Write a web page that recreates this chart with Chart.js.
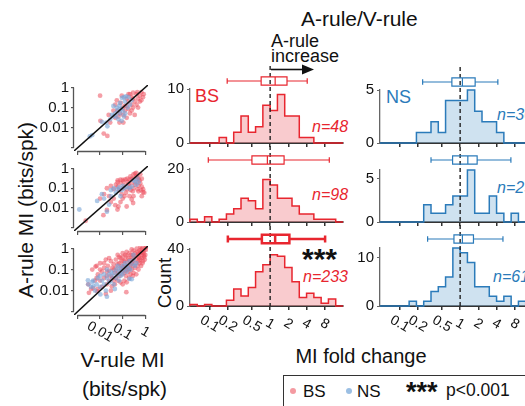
<!DOCTYPE html>
<html>
<head>
<meta charset="utf-8">
<script src="https://cdn.jsdelivr.net/npm/chart.js@4.4.1/dist/chart.umd.min.js"></script>
<style>
  body { margin: 0; width: 525px; height: 406px; overflow: hidden; background: #fff; position: relative;
         font-family: "Liberation Sans", Arial, sans-serif; color: #111; }
  canvas { position: absolute; }
  .t { position: absolute; white-space: nowrap; line-height: 1; }
  .c { transform: translateX(-50%); }
  .rot { transform: translate(-50%, -50%) rotate(-90deg); }
  .bs { color: #e8262f; }
  .ns { color: #2b7bba; }
  .n { font-style: italic; font-size: 16px; }
  .dot { position: absolute; width: 6px; height: 6px; border-radius: 50%; }
</style>
</head>
<body>

<div class="t" style="left:301px;top:8px;font-size:21px">A-rule/V-rule</div>
<div class="t" style="left:271px;top:32px;font-size:18px">A-rule</div>
<div class="t" style="left:271px;top:46.5px;font-size:18px">increase</div>
<svg style="position:absolute;left:265px;top:60px" width="60" height="20">
  <line x1="6" y1="9.5" x2="38" y2="9.5" stroke="#111" stroke-width="1.6"/>
  <polygon points="37,4.5 49,9.5 37,14.5" fill="#111"/>
</svg>

<div class="t bs" style="left:195px;top:87px;font-size:18px">BS</div>
<div class="t ns" style="left:386px;top:88px;font-size:18px">NS</div>
<div class="t n bs" style="left:312px;top:118.5px">n=48</div>
<div class="t n bs" style="left:312px;top:186.5px">n=98</div>
<div class="t n bs" style="left:303px;top:268.5px">n=233</div>
<div class="t n ns" style="left:497px;top:106.5px">n=30</div>
<div class="t n ns" style="left:497px;top:179.5px">n=25</div>
<div class="t n ns" style="left:493px;top:268.5px">n=61</div>
<div class="t" style="left:302px;top:244px;font-size:30px;font-weight:bold">***</div>

<div class="t rot" style="left:25px;top:210px;font-size:21px">A-rule MI (bits/spk)</div>
<div class="t rot" style="left:164px;top:283px;font-size:19px">Count</div>
<div class="t c" style="left:122.5px;top:349px;font-size:21px">V-rule MI</div>
<div class="t c" style="left:124.5px;top:378px;font-size:21px">(bits/spk)</div>
<div class="t c" style="left:361px;top:346px;font-size:20px">MI fold change</div>

<div style="position:absolute;left:283px;top:375px;width:300px;height:60px;border:1.5px solid #333"></div>
<div class="dot" style="left:289.5px;top:388px;background:rgba(240,120,130,0.75)"></div>
<div class="t" style="left:303px;top:382.5px;font-size:17px">BS</div>
<div class="dot" style="left:345.5px;top:388px;background:rgba(130,175,220,0.8)"></div>
<div class="t" style="left:357px;top:382.5px;font-size:17px">NS</div>
<div class="t" style="left:406px;top:378.5px;font-size:27px;font-weight:bold">***</div>
<div class="t" style="left:446px;top:382px;font-size:17.5px">p&lt;0.001</div>

<script>
const family = '"Liberation Sans", Arial, sans-serif';
Chart.defaults.font.family = family;

// ---- histogram data (MI fold change, A-rule / V-rule) ----
const foldTicks = [0.1, 0.2, 0.5, 1, 2, 4, 8];
const foldLabels = ['0.1', '0.2', '0.5', '1', '2', '4', '8'];
const binStart = -4.4;   // log2 fold change of first bin edge
const binWidth = 0.4;    // bin width in log2 units

const bsCounts1 = [0, 0, 0, 0, 1, 0, 2, 5, 2, 3, 7, 6, 9, 5, 5, 1, 1, 0, 0, 0, 0];
const bsCounts2 = [1, 0, 2, 0, 1, 3, 5, 9, 8, 5, 16, 14, 9, 9, 6, 3, 3, 1, 1, 1, 0];
const bsCounts3 = [1, 0, 1, 0, 0, 4, 12, 7, 13, 24, 29, 36, 35, 27, 17, 6, 9, 6, 2, 5, 0];
const nsCounts1 = [0, 0, 0, 0, 0, 1, 1, 2, 1, 4, 4, 4, 5, 3, 2, 2, 1, 0, 0, 0, 0];
const nsCounts2 = [0, 0, 0, 0, 0, 0, 2, 1, 1, 2, 3, 3, 6, 1, 1, 3, 1, 0, 1, 0, 0];
const nsCounts3 = [0, 0, 0, 0, 1, 0, 1, 3, 4, 6, 12, 11, 9, 4, 4, 2, 1, 2, 0, 1, 0];

// box plots: [whisker low, q1, median, q3, whisker high] as fold change
const bsBox1 = [0.195, 0.71, 1.21, 1.9, 4.1];
const bsBox2 = [0.095, 0.5, 0.9, 1.7, 9.5];
const bsBox3 = [0.2, 0.73, 1.21, 2.08, 8.1];
const nsBox1 = [0.24, 0.73, 1.09, 1.77, 4.2];
const nsBox2 = [0.33, 0.75, 1.34, 1.91, 6.9];
const nsBox3 = [0.29, 0.79, 1.09, 1.66, 5.1];

// ---- scatter data: [V-rule MI, A-rule MI] in bits/spk ----
const bsScatter1 = [[0.010,0.39],[0.0145,0.0051],[0.021,0.0039],[0.0103,0.022],[0.29,0.55],[0.41,0.46],[0.57,0.39],[0.67,0.58],
  [0.48,0.28],[0.34,0.2],[0.25,0.14],[0.18,0.085],[0.126,0.071],[0.21,0.051],[0.15,0.031],[0.107,0.018],[0.047,0.031],[0.039,0.071],
  [0.028,0.018],[0.055,0.23],[0.091,0.39],[0.15,0.28],[0.25,0.33],[0.79,0.33],[0.41,0.14],[0.29,0.1],[0.57,0.2],[0.076,0.051],
  [0.126,0.12],[0.21,0.46],[0.065,0.036],[0.1,0.1],[0.85,0.46],[0.48,0.1],[0.29,0.28],[0.18,0.2],[0.082,0.17],[0.047,0.14],
  [0.25,0.071],[0.34,0.043],[0.67,0.23],[0.107,0.043],[0.18,0.46],[0.059,0.071],[0.44,0.58],[0.15,0.12],[0.072,0.018],[0.024,0.043]];
const nsScatter1 = [[0.0035,0.0037],[0.0045,0.0043],[0.012,0.0196],[0.021,0.0118],[0.033,0.043],[0.047,0.051],[0.059,0.071],
  [0.076,0.17],[0.093,0.3],[0.114,0.33],[0.039,0.12],[0.065,0.026],[0.09,0.022],[0.114,0.036],[0.055,0.1],[0.14,0.36],[0.18,0.33],
  [0.076,0.051],[0.051,0.036],[0.028,0.026],[0.126,0.2],[0.1,0.071],[0.21,0.14],[0.165,0.1],[0.072,0.12],[0.039,0.036],[0.25,0.23],
  [0.13,0.051],[0.019,0.018],[0.082,0.085]];
const bsScatter2 = [[0.06,0.25],[0.08,0.27],[0.1,0.26],[0.13,0.28],[0.16,0.3],[0.2,0.27],[0.25,0.3],[0.3,0.5],[0.35,0.55],[0.4,0.4],
  [0.45,0.35],[0.5,0.3],[0.3,0.3],[0.22,0.4],[0.6,0.5],[0.55,0.25],[0.7,0.3],[0.4,0.6],[0.02,0.1],[0.03,0.13],[0.04,0.09],[0.05,0.15],
  [0.06,0.12],[0.07,0.08],[0.08,0.18],[0.1,0.1],[0.12,0.14],[0.15,0.09],[0.18,0.16],[0.2,0.12],[0.25,0.18],[0.3,0.1],[0.35,0.15],
  [0.4,0.2],[0.5,0.13],[0.6,0.18],[0.7,0.12],[0.8,0.09],[0.9,0.06],[0.5,0.07],[0.45,0.09],[0.28,0.07],[0.14,0.06],[0.09,0.05],
  [0.06,0.2],[0.11,0.22],[0.17,0.2],[0.22,0.08],[0.01,0.03],[0.015,0.05],[0.025,0.04],[0.03,0.02],[0.04,0.03],[0.047,0.014],
  [0.065,0.012],[0.15,0.012],[0.08,0.02],[0.1,0.03],[0.12,0.04],[0.2,0.04],[0.3,0.04],[0.29,0.018],[0.25,0.027],[0.7,0.04],
  [0.014,0.0044],[0.02,0.008],[0.059,0.0085],[0.0023,0.0023],[0.79,0.063],[0.65,0.08]];
const nsScatter2 = [[0.0012,0.0085],[0.0074,0.023],[0.012,0.05],[0.015,0.03],[0.02,0.0066],[0.025,0.015],[0.03,0.08],[0.04,0.1],
  [0.05,0.06],[0.06,0.09],[0.07,0.11],[0.09,0.08],[0.1,0.13],[0.12,0.1],[0.15,0.12],[0.2,0.1],[0.3,0.25],[0.35,0.22],[0.4,0.15],
  [0.5,0.2],[0.08,0.04],[0.03,0.04],[0.25,0.12],[0.45,0.3]];
const bsScatter3 = [[0.3,0.5],[0.35,0.6],[0.4,0.45],[0.45,0.7],[0.5,0.55],[0.55,0.8],[0.6,0.6],[0.65,0.9],[0.7,0.7],[0.75,1.0],
  [0.8,0.65],[0.9,0.85],[1.0,1.1],[1.1,0.9],[0.85,0.45],[0.7,0.35],[0.6,0.3],[0.5,0.25],[0.4,0.3],[0.35,0.2],[0.45,0.15],[0.55,0.2],
  [0.65,0.15],[0.8,0.25],[0.9,0.4],[1.0,0.5],[0.95,0.3],[0.3,0.35],[0.5,0.4],[0.42,1.0],[0.6,1.2],[0.3,0.8],[0.25,0.9],[0.7,0.5],
  [0.35,0.12],[0.5,0.1],[0.75,0.2],[0.3,0.07],[0.55,0.35],[0.85,0.6],[0.4,0.06],[1.1,1.27],
  [0.05,0.3],[0.06,0.5],[0.07,0.2],[0.08,0.35],[0.09,0.15],[0.1,0.4],[0.11,0.25],[0.12,0.18],[0.13,0.3],[0.14,0.12],[0.15,0.45],
  [0.16,0.22],[0.18,0.35],[0.2,0.28],[0.22,0.16],[0.25,0.4],[0.27,0.25],[0.28,0.15],[0.2,0.6],[0.15,0.7],[0.1,0.6],[0.08,0.12],
  [0.06,0.08],[0.07,0.05],[0.09,0.06],[0.1,0.09],[0.12,0.07],[0.14,0.05],[0.16,0.1],[0.18,0.08],[0.2,0.11],[0.22,0.06],[0.25,0.1],
  [0.28,0.05],[0.05,0.12],[0.05,0.04],[0.06,0.18],[0.11,0.13],[0.13,0.09],[0.17,0.14],[0.24,0.2],[0.19,0.04],[0.12,0.03],
  [0.08,0.025],[0.1,0.02],[0.15,0.025],[0.06,0.03],[0.145,0.0085],[0.23,0.5],[0.13,0.5],[0.09,0.25],[0.07,0.4],
  [0.003,0.02],[0.0045,0.1],[0.0063,0.14],[0.006,0.03],[0.007,0.15],[0.008,0.06],[0.01,0.2],[0.012,0.08],[0.015,0.12],[0.018,0.3],
  [0.02,0.05],[0.022,0.15],[0.025,0.09],[0.03,0.25],[0.035,0.12],[0.04,0.18],[0.045,0.07],[0.01,0.03],[0.012,0.015],[0.015,0.04],
  [0.02,0.02],[0.025,0.03],[0.03,0.05],[0.035,0.04],[0.04,0.03],[0.045,0.02],[0.008,0.012],[0.0074,0.0093],[0.0032,0.0079],
  [0.005,0.013],[0.018,0.007],[0.03,0.01],[0.04,0.1],[0.025,0.35],[0.01,0.1],[0.015,0.2],[0.007,0.04],[0.004,0.012],[0.033,0.016],
  [0.02,0.08]];
const nsScatter3 = [[0.0029,0.031],[0.0045,0.026],[0.003,0.02],[0.004,0.015],[0.005,0.016],[0.005,0.03],[0.006,0.01],[0.007,0.02],
  [0.008,0.04],[0.01,0.015],[0.01,0.05],[0.012,0.03],[0.015,0.02],[0.015,0.06],[0.018,0.01],[0.02,0.04],[0.02,0.1],[0.025,0.025],
  [0.025,0.06],[0.03,0.03],[0.03,0.08],[0.035,0.05],[0.04,0.02],[0.04,0.07],[0.05,0.04],[0.05,0.1],[0.06,0.06],[0.06,0.15],
  [0.07,0.03],[0.07,0.09],[0.08,0.05],[0.08,0.12],[0.09,0.08],[0.1,0.06],[0.1,0.15],[0.12,0.1],[0.13,0.2],[0.15,0.08],[0.15,0.15],
  [0.18,0.12],[0.2,0.25],[0.22,0.1],[0.25,0.18],[0.3,0.3],[0.35,0.15],[0.4,0.2],[0.2,0.036],[0.25,0.035],[0.0103,0.0066],
  [0.02,0.0052],[0.045,0.012],[0.3,0.5]];

// ---- helpers ----
function addCanvas(area, m) {
  const c = document.createElement('canvas');
  const w = area.x1 - area.x0 + m.l + m.r, h = area.y1 - area.y0 + m.t + m.b;
  c.width = w; c.height = h;
  c.style.left = (area.x0 - m.l) + 'px';
  c.style.top = (area.y0 - m.t) + 'px';
  c.style.width = w + 'px'; c.style.height = h + 'px';
  document.body.appendChild(c);
  return c;
}

function rotatedLabels(ctx, scale, vals, texts, y) {
  ctx.fillStyle = '#111';
  ctx.font = '14px ' + family;
  ctx.textAlign = 'center';
  ctx.textBaseline = 'middle';
  vals.forEach((v, i) => {
    ctx.save();
    ctx.translate(scale.getPixelForValue(v), y);
    ctx.rotate(Math.PI / 6);
    ctx.fillText(texts[i], 0, 0);
    ctx.restore();
  });
}

function stepPoints(counts) {
  const pts = [{x: binStart, y: 0}];
  counts.forEach((c, i) => pts.push({x: binStart + i * binWidth, y: c}));
  pts.push({x: binStart + counts.length * binWidth, y: 0});
  return pts;
}

function histExtras(cfg) {
  return {
    id: 'histExtras',
    afterDatasetsDraw(chart) {
      const ctx = chart.ctx, a = chart.chartArea, x = chart.scales.x;
      const cx = x.getPixelForValue(0);
      ctx.save();
      // reference line at fold change 1
      ctx.strokeStyle = '#222';
      ctx.lineWidth = 1.4;
      ctx.setLineDash([4, 3]);
      ctx.beginPath();
      ctx.moveTo(cx, a.top - 23);
      ctx.lineTo(cx, a.bottom);
      ctx.stroke();
      ctx.setLineDash([]);
      // box plot above the histogram
      const b = cfg.box.map(v => x.getPixelForValue(Math.log2(v)));
      const y = a.top - cfg.boxGap, hh = 4.2, ch = cfg.boxLw > 2 ? 3.4 : 2.8;
      ctx.strokeStyle = cfg.line;
      ctx.lineWidth = cfg.boxLw;
      ctx.beginPath();
      ctx.moveTo(b[0], y); ctx.lineTo(b[1], y);
      ctx.moveTo(b[3], y); ctx.lineTo(b[4], y);
      ctx.moveTo(b[0], y - ch); ctx.lineTo(b[0], y + ch);
      ctx.moveTo(b[4], y - ch); ctx.lineTo(b[4], y + ch);
      ctx.moveTo(b[2], y - hh); ctx.lineTo(b[2], y + hh);
      ctx.rect(b[1], y - hh, b[3] - b[1], 2 * hh);
      ctx.stroke();
      if (cfg.labels) rotatedLabels(ctx, x, foldTicks.map(Math.log2), foldLabels, a.bottom + 18);
      ctx.restore();
    }
  };
}

function histogram(cfg) {
  const m = {l: 45, r: 12, t: 30, b: cfg.labels ? 40 : 8};
  const canvas = addCanvas(cfg.area, m);
  new Chart(canvas, {
    type: 'line',
    data: {
      datasets: [{
        data: stepPoints(cfg.counts),
        stepped: true,
        borderColor: cfg.line,
        backgroundColor: cfg.fill,
        fill: 'origin',
        borderWidth: 1.5,
        pointRadius: 0,
        clip: false
      }]
    },
    options: {
      responsive: false,
      animation: false,
      events: [],
      // y axis box takes the whole left margin so its labels are not clipped
      layout: {padding: {left: 0, right: m.r, top: m.t, bottom: m.b}},
      plugins: {legend: {display: false}, tooltip: {enabled: false}},
      scales: {
        x: {
          type: 'linear', min: binStart, max: binStart + 21 * binWidth,
          afterBuildTicks: s => { s.ticks = foldTicks.map(v => ({value: Math.log2(v)})); },
          afterFit: s => { s.height = 0; },
          ticks: {display: false},
          grid: {drawOnChartArea: false, tickLength: 4, color: '#333', lineWidth: 1.5},
          border: {color: '#333', width: 2}
        },
        y: {
          min: 0, max: cfg.yMax,
          afterBuildTicks: s => { s.ticks = [{value: 0}, {value: cfg.yTick}]; },
          afterFit: s => { s.width = m.l; },
          ticks: {color: '#111', font: {size: 15}, padding: 3, autoSkip: false},
          grid: {drawOnChartArea: false, tickLength: 3, color: '#666'},
          border: {color: '#666', width: 1.3}
        }
      }
    },
    plugins: [histExtras(cfg)]
  });
}

function scatterExtras(cfg) {
  return {
    id: 'scatterExtras',
    afterDatasetsDraw(chart) {
      const ctx = chart.ctx, a = chart.chartArea, x = chart.scales.x, y = chart.scales.y;
      ctx.save();
      ctx.strokeStyle = '#555';
      ctx.lineWidth = 1.3;
      ctx.beginPath();
      ctx.moveTo(a.left - 0.5, y.getPixelForValue(1));
      ctx.lineTo(a.left - 0.5, y.getPixelForValue(0.001));
      ctx.moveTo(x.getPixelForValue(0.001), a.bottom + 0.5);
      ctx.lineTo(x.getPixelForValue(1), a.bottom + 0.5);
      ctx.stroke();
      if (cfg.labels) rotatedLabels(ctx, x, [0.01, 0.1, 1], ['0.01', '0.1', '1'], a.bottom + 17);
      ctx.restore();
    }
  };
}

const miTicks = [0.001, 0.01, 0.1, 1];
const miLabels = {1: '1', 0.1: '0.1', 0.01: '0.01'};

function scatter(cfg) {
  const m = {l: 45, r: 6, t: 6, b: cfg.labels ? 36 : 6};
  const canvas = addCanvas(cfg.area, m);
  const toXY = p => ({x: p[0], y: p[1]});
  new Chart(canvas, {
    type: 'scatter',
    data: {
      datasets: [
        {type: 'line', data: [{x: 0.0007, y: 0.0007}, {x: 1.32, y: 1.32}], borderColor: '#111',
         borderWidth: 1.5, pointRadius: 0, showLine: true},
        {data: cfg.ns.map(toXY), backgroundColor: 'rgba(120,165,215,0.6)', pointRadius: 2.4, borderWidth: 0},
        {data: cfg.bs.map(toXY), backgroundColor: 'rgba(236,80,95,0.55)', pointRadius: 2.4, borderWidth: 0}
      ]
    },
    options: {
      responsive: false,
      animation: false,
      events: [],
      layout: {padding: {left: 0, right: m.r, top: m.t, bottom: m.b}},
      plugins: {legend: {display: false}, tooltip: {enabled: false}},
      scales: {
        x: {
          type: 'logarithmic', min: 0.0007, max: 1.32,
          afterBuildTicks: s => { s.ticks = miTicks.map(v => ({value: v})); },
          afterFit: s => { s.height = 0; },
          ticks: {display: false},
          grid: {drawOnChartArea: false, tickLength: 4, color: '#555', lineWidth: 1.2},
          border: {display: false}
        },
        y: {
          type: 'logarithmic', min: 0.0007, max: 1.32,
          afterBuildTicks: s => { s.ticks = miTicks.map(v => ({value: v})); },
          afterFit: s => { s.width = m.l; },
          ticks: {color: '#111', font: {size: 15}, padding: 2, autoSkip: false, callback: v => miLabels[v] || ''},
          grid: {drawOnChartArea: false, tickLength: 3, color: '#555', lineWidth: 1.2},
          border: {display: false}
        }
      }
    },
    plugins: [scatterExtras(cfg)]
  });
}

const bsLine = '#e8262f', bsFill = 'rgba(244,160,165,0.55)';
const nsLine = '#2b7bba', nsFill = 'rgba(160,198,226,0.5)';

scatter({area: {x0: 74, x1: 148, y0: 80, y1: 156}, bs: bsScatter1, ns: nsScatter1});
scatter({area: {x0: 74, x1: 148, y0: 161, y1: 236}, bs: bsScatter2, ns: nsScatter2});
scatter({area: {x0: 74, x1: 148, y0: 241, y1: 315}, bs: bsScatter3, ns: nsScatter3, labels: true});

histogram({area: {x0: 190, x1: 343, y0: 89, y1: 147}, counts: bsCounts1, yMax: 10, yTick: 10, box: bsBox1,
  boxGap: 8, boxLw: 1.2, line: bsLine, fill: bsFill});
histogram({area: {x0: 190, x1: 343, y0: 169, y1: 226}, counts: bsCounts2, yMax: 20, yTick: 20, box: bsBox2,
  boxGap: 9, boxLw: 1.2, line: bsLine, fill: bsFill});
histogram({area: {x0: 190, x1: 343, y0: 249, y1: 306}, counts: bsCounts3, yMax: 40, yTick: 40, box: bsBox3,
  boxGap: 10, boxLw: 2.5, line: bsLine, fill: bsFill, labels: true});

histogram({area: {x0: 380, x1: 533, y0: 90, y1: 147}, counts: nsCounts1, yMax: 5, yTick: 5, box: nsBox1,
  boxGap: 8, boxLw: 1.2, line: nsLine, fill: nsFill});
histogram({area: {x0: 380, x1: 533, y0: 170, y1: 226}, counts: nsCounts2, yMax: 6, yTick: 5, box: nsBox2,
  boxGap: 10, boxLw: 1.2, line: nsLine, fill: nsFill});
histogram({area: {x0: 380, x1: 533, y0: 248, y1: 306}, counts: nsCounts3, yMax: 12, yTick: 10, box: nsBox3,
  boxGap: 9, boxLw: 1.2, line: nsLine, fill: nsFill, labels: true});
</script>
</body>
</html>
